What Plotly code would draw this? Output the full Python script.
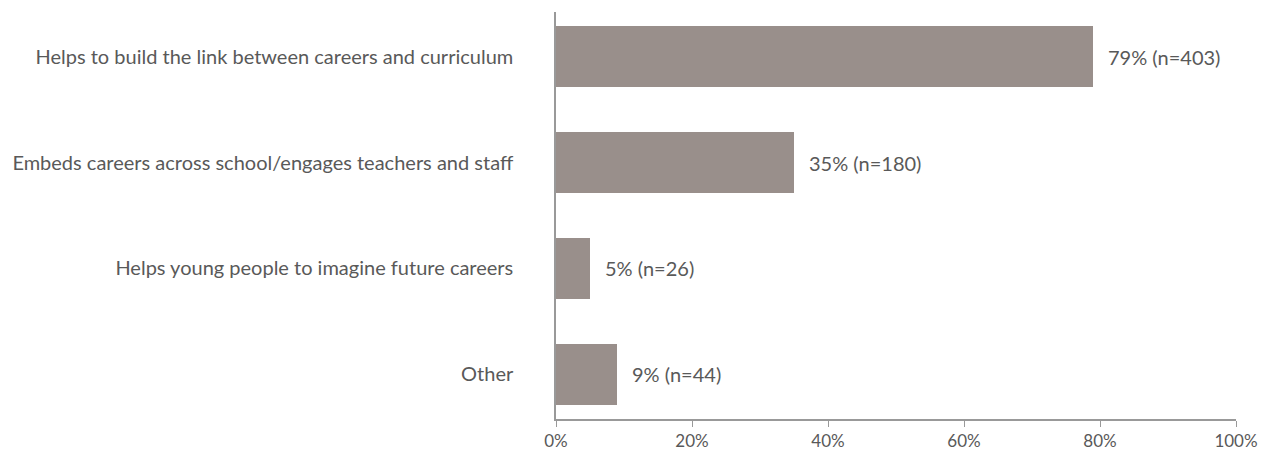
import plotly.graph_objects as go

categories = [
    "Helps to build the link between careers and curriculum",
    "Embeds careers across school/engages teachers and staff",
    "Helps young people to imagine future careers",
    "Other",
]
percent = [79, 35, 5, 9]
counts = [403, 180, 26, 44]
tick_vals = [0, 20, 40, 60, 80, 100]
tick_text = ["0%", "20%", "40%", "60%", "80%", "100%"]

BAR = "#998f8b"
TXT = "#595959"
AX = "#999999"
FONT = "Lato"

fig = go.Figure(go.Bar(
    x=percent, y=categories, orientation="h",
    marker=dict(color=BAR, line=dict(width=0)),
    width=0.575, hoverinfo="skip",
))

for c, p, n in zip(categories, percent, counts):
    fig.add_annotation(x=p, y=c, text=f"{p}% (n={n})", showarrow=False,
                       xanchor="left", yanchor="middle", xshift=13,
                       font=dict(family=FONT, size=20, color=TXT))

# page body has an 8px default margin, so the figure is sized/offset to fit
fig.update_layout(
    width=1259, height=444,
    margin=dict(l=548, r=31, t=4, b=33),
    paper_bgcolor="white", plot_bgcolor="white",
    showlegend=False,
    font=dict(family=FONT, size=20, color=TXT),
    bargap=0,
)
fig.update_xaxes(
    range=[0, 100], tickvals=tick_vals, ticktext=tick_text,
    showgrid=False, zeroline=False, showline=True, linecolor=AX, linewidth=1.5,
    ticks="outside", ticklen=6, tickcolor=AX, tickwidth=1,
    tickfont=dict(family=FONT, size=17, color=TXT), fixedrange=True,
    automargin=False,
)
fig.update_yaxes(
    categoryorder="array", categoryarray=categories,
    range=[3.42, -0.42],
    showgrid=False, zeroline=False, showline=True, linecolor=AX, linewidth=1.5,
    ticks="", ticklabelstandoff=37,
    tickfont=dict(family=FONT, size=20, color=TXT), fixedrange=True,
    automargin=False,
)

fig.write_html("out.html")
